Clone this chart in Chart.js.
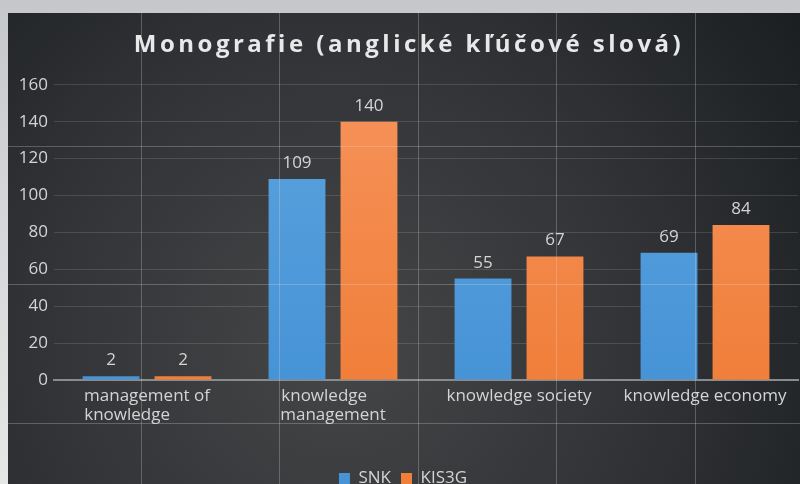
<!DOCTYPE html>
<html>
<head>
<meta charset="utf-8">
<script src="https://cdn.jsdelivr.net/npm/chart.js@4"></script>
<style>
  html, body { margin: 0; padding: 0; }
  body {
    width: 800px; height: 484px; overflow: hidden; position: relative;
    background: linear-gradient(180deg, #c6c7cb 0%, #d4d5d7 40%, #e6e6e6 100%);
  }
  #wrap { position: absolute; left: 8px; top: 13px; width: 792px; height: 484px; }
</style>
</head>
<body>
<div id="wrap"><canvas id="chart"></canvas></div>
<script>
// data
const categories = [
  ['management of', 'knowledge'],
  ['knowledge', 'management'],
  'knowledge society',
  'knowledge economy'
];
const snkValues = [2, 109, 55, 69];
const kisValues = [2, 140, 67, 84];
const yTicks = [0, 20, 40, 60, 80, 100, 120, 140, 160];

const textColor = '#d4d4d4';
const tickFont = { family: '"Open Sans", sans-serif', size: 17 };

// pad shorter lines so a wrapped label looks left aligned inside its centered block
const measureCtx = document.createElement('canvas').getContext('2d');
function padLines(label) {
  if (!Array.isArray(label)) return label;
  measureCtx.font = '17px "Open Sans"';
  const widths = label.map(l => measureCtx.measureText(l).width);
  const maxW = Math.max(...widths);
  return label.map(l => {
    let s = l;
    while (measureCtx.measureText(s + ' ').width <= maxW + 1) s += ' ';
    return s;
  });
}

function barGradient(top, bottom) {
  return function (context) {
    const area = context.chart.chartArea;
    if (!area) return bottom;
    const g = context.chart.ctx.createLinearGradient(0, area.top, 0, area.bottom);
    g.addColorStop(0, top);
    g.addColorStop(1, bottom);
    return g;
  };
}

const backgroundPlugin = {
  id: 'darkBackground',
  beforeDraw(chart) {
    const { ctx, width, height } = chart;
    ctx.save();
    const g = ctx.createRadialGradient(330, 330, 20, 330, 330, 560);
    g.addColorStop(0, '#444547');
    g.addColorStop(0.55, '#303235');
    g.addColorStop(1, '#1c1f22');
    ctx.fillStyle = g;
    ctx.fillRect(0, 0, width, height);
    ctx.restore();
    // letter-spaced title
    const tb = chart.titleBlock;
    if (tb && !tb._spaced) {
      const orig = tb.draw;
      tb.draw = function () {
        this.ctx.save();
        this.ctx.letterSpacing = '3.5px';
        this.ctx.translate(6, 0);
        orig.apply(this, arguments);
        this.ctx.restore();
      };
      tb._spaced = true;
    }
  },
  afterDraw(chart) {
    // faint page grid from the scanned print
    const { ctx, width, height } = chart;
    ctx.save();
    ctx.strokeStyle = 'rgba(220,220,220,0.28)';
    ctx.lineWidth = 1;
    for (let x = 132.5; x < width; x += 138.5) {
      ctx.beginPath(); ctx.moveTo(Math.round(x) + 0.5, 0); ctx.lineTo(Math.round(x) + 0.5, height); ctx.stroke();
    }
    for (let y = 132.5; y < height; y += 138.5) {
      ctx.beginPath(); ctx.moveTo(0, Math.round(y) + 0.5); ctx.lineTo(width, Math.round(y) + 0.5); ctx.stroke();
    }
    ctx.restore();
  }
};

const valueLabels = {
  id: 'valueLabels',
  afterDatasetsDraw(chart) {
    const ctx = chart.ctx;
    ctx.save();
    ctx.fillStyle = textColor;
    ctx.font = '17px "Open Sans", sans-serif';
    ctx.textAlign = 'center';
    ctx.textBaseline = 'alphabetic';
    chart.data.datasets.forEach((ds, i) => {
      chart.getDatasetMeta(i).data.forEach((bar, j) => {
        ctx.fillText(String(ds.data[j]), bar.x, bar.y - 11);
      });
    });
    ctx.restore();
  }
};

new Chart(document.getElementById('chart'), {
  type: 'bar',
  data: {
    labels: categories,
    datasets: [
      {
        label: 'SNK',
        data: snkValues,
        backgroundColor: barGradient('#5ca3de', '#4693d6'),
        categoryPercentage: 0.774,
        barPercentage: 0.79
      },
      {
        label: 'KIS3G',
        data: kisValues,
        backgroundColor: barGradient('#f6925a', '#f07f3a'),
        categoryPercentage: 0.774,
        barPercentage: 0.79
      }
    ]
  },
  options: {
    responsive: true,
    maintainAspectRatio: false,
    animation: false,
    layout: { padding: { left: 0, right: 2, top: 0, bottom: 0 } },
    scales: {
      x: {
        grid: { display: false, drawTicks: false },
        border: { display: true, color: '#8a8b8d', width: 2 },
        ticks: {
          color: textColor,
          font: { ...tickFont, lineHeight: 1.15 },
          padding: 6,
          maxRotation: 0,
          autoSkip: false,
          callback: function (value, index) { return padLines(categories[index]); }
        },
        afterFit(scale) { scale.height = 80; }
      },
      y: {
        min: 0,
        max: 160,
        afterBuildTicks(scale) { scale.ticks = yTicks.map(v => ({ value: v })); },
        grid: { color: 'rgba(255,255,255,0.13)', lineWidth: 1, drawTicks: false },
        border: { display: false },
        ticks: { color: textColor, font: tickFont, padding: 6 },
        afterFit(scale) { scale.width = 46; }
      }
    },
    plugins: {
      title: {
        display: true,
        text: 'Monografie (anglické kľúčové slová)',
        color: '#e8e8e8',
        font: { family: '"Open Sans", sans-serif', size: 24, weight: 'bold', lineHeight: 1.2 },
        padding: { top: 18, bottom: 25 }
      },
      legend: {
        position: 'bottom',
        labels: {
          color: textColor,
          font: tickFont,
          boxWidth: 11,
          boxHeight: 11,
          padding: 10
        }
      },
      tooltip: { enabled: false }
    }
  },
  plugins: [backgroundPlugin, valueLabels]
});
</script>
</body>
</html>
